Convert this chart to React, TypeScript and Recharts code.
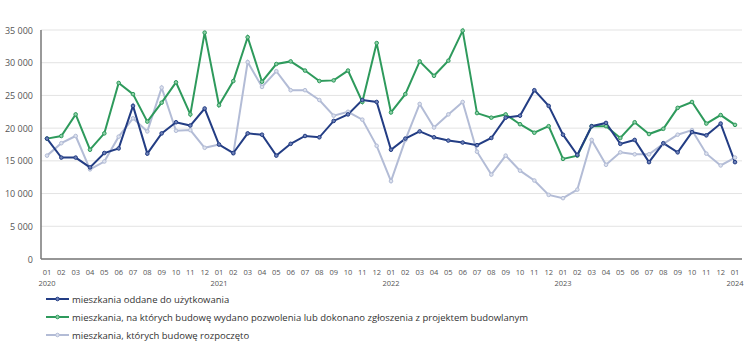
import { LineChart, Line, XAxis, YAxis, CartesianGrid } from 'recharts'

document.body.style.margin = '0'

const months = [
  '2020-01', '2020-02', '2020-03', '2020-04', '2020-05', '2020-06', '2020-07', '2020-08', '2020-09', '2020-10', '2020-11', '2020-12',
  '2021-01', '2021-02', '2021-03', '2021-04', '2021-05', '2021-06', '2021-07', '2021-08', '2021-09', '2021-10', '2021-11', '2021-12',
  '2022-01', '2022-02', '2022-03', '2022-04', '2022-05', '2022-06', '2022-07', '2022-08', '2022-09', '2022-10', '2022-11', '2022-12',
  '2023-01', '2023-02', '2023-03', '2023-04', '2023-05', '2023-06', '2023-07', '2023-08', '2023-09', '2023-10', '2023-11', '2023-12',
  '2024-01',
]

// mieszkania oddane do użytkowania
const completed = [
  18400, 15500, 15500, 14000, 16200, 16900, 23400, 16100, 19200, 20900, 20400, 23000,
  17500, 16200, 19200, 19000, 15800, 17600, 18800, 18600, 21100, 22100, 24300, 24000,
  16700, 18400, 19500, 18600, 18100, 17800, 17400, 18500, 21600, 21900, 25800, 23400,
  19000, 15900, 20300, 20800, 17600, 18200, 14800, 17700, 16300, 19400, 18900, 20700,
  14800,
]

// pozwolenia lub zgłoszenia
const permits = [
  18400, 18800, 22100, 16700, 19200, 26900, 25200, 21000, 23900, 27000, 22100, 34600,
  23500, 27200, 33900, 27100, 29800, 30200, 28800, 27200, 27300, 28800, 24000, 33000,
  22400, 25200, 30200, 28000, 30300, 34900, 22300, 21600, 22100, 20600, 19300, 20300,
  15300, 15800, 20300, 20300, 18500, 20900, 19100, 19900, 23100, 24000, 20700, 22000,
  20500,
]

// rozpoczęte budowy
const started = [
  15800, 17700, 18800, 13700, 14900, 18700, 21500, 19500, 26200, 19600, 19700, 17000,
  17500, 16100, 30100, 26300, 28700, 25800, 25800, 24300, 21900, 22500, 21300, 17300,
  11900, 18200, 23700, 20100, 22100, 24000, 16400, 12900, 15800, 13500, 12000, 9800,
  9300, 10600, 18200, 14400, 16300, 16000, 16000, 17600, 19000, 19700, 16100, 14300,
  15500,
]

const yTicks = [0, 5000, 10000, 15000, 20000, 25000, 30000, 35000]

const series = [
  { key: 'completed', name: 'mieszkania oddane do użytkowania', color: '#233d84', fill: '#6f82b8' },
  { key: 'permits', name: 'mieszkania, na których budowę wydano pozwolenia lub dokonano zgłoszenia z projektem budowlanym', color: '#2e9a5c', fill: '#8fd0a8' },
  { key: 'started', name: 'mieszkania, których budowę rozpoczęto', color: '#b3bcd6', fill: '#dde2ee' },
]

const data = months.map((m, i) => ({
  month: m,
  completed: completed[i],
  permits: permits[i],
  started: started[i],
}))

const font = '"Open Sans", "Noto Sans", sans-serif'

const fmt = (v: number) => (v >= 1000 ? `${Math.floor(v / 1000)}\u00a0${String(v % 1000).padStart(3, '0')}` : String(v))

function MonthTick({ x, y, payload }: any) {
  const [year, mm] = String(payload.value).split('-')
  return (
    <g transform={`translate(${x},${y})`}>
      <text x={0} y={8} textAnchor="middle" fontSize={7.5} fill="#555" fontFamily={font}>{mm}</text>
      {mm === '01' && (
        <text x={0} y={18.5} textAnchor="middle" fontSize={7.5} fill="#555" fontFamily={font}>{year}</text>
      )}
    </g>
  )
}

function ValueTick({ y, payload }: any) {
  return (
    <text x={33} y={y} dy={3.5} textAnchor="end" fontSize={9} fill="#555" fontFamily={font}>
      {fmt(payload.value)}
    </text>
  )
}

export default function App() {
  const draw = [series[2], series[1], series[0]]
  return (
    <div style={{ position: 'relative', width: 750, height: 350, background: '#fff' }}>
      <LineChart width={750} height={350} data={data} margin={{ top: 30, right: 8, left: 0, bottom: 61 }}>
        <CartesianGrid vertical={false} stroke="#e3e3e3" />
        <XAxis
          dataKey="month"
          interval={0}
          tick={<MonthTick />}
          tickLine={false}
          axisLine={{ stroke: '#777', strokeWidth: 1.5 }}
          padding={{ left: 6, right: 7 }}
          height={30}
        />
        <YAxis
          domain={[0, 35000]}
          ticks={yTicks}
          width={41}
          tickLine={false}
          axisLine={{ stroke: '#777', strokeWidth: 1.5 }}
          tick={<ValueTick />}
          interval={0}
        />
        {draw.map((s) => (
          <Line
            key={s.key}
            dataKey={s.key}
            name={s.name}
            stroke={s.color}
            strokeWidth={2}
            dot={{ r: 1.8, stroke: s.color, strokeWidth: 1, fill: s.fill }}
            isAnimationActive={false}
          />
        ))}
      </LineChart>
      <div style={{ position: 'absolute', left: 46, top: 290, fontFamily: font, fontSize: 9.5, color: '#333' }}>
        {series.map((s) => (
          <div key={s.key} style={{ display: 'flex', alignItems: 'center', height: 18 }}>
            <svg width={23} height={8} style={{ marginRight: 3 }}>
              <line x1={0} y1={4} x2={23} y2={4} stroke={s.color} strokeWidth={2} />
              <circle cx={11.5} cy={4} r={1.8} stroke={s.color} strokeWidth={1} fill={s.fill} />
            </svg>
            <span>{s.name}</span>
          </div>
        ))}
      </div>
    </div>
  )
}
